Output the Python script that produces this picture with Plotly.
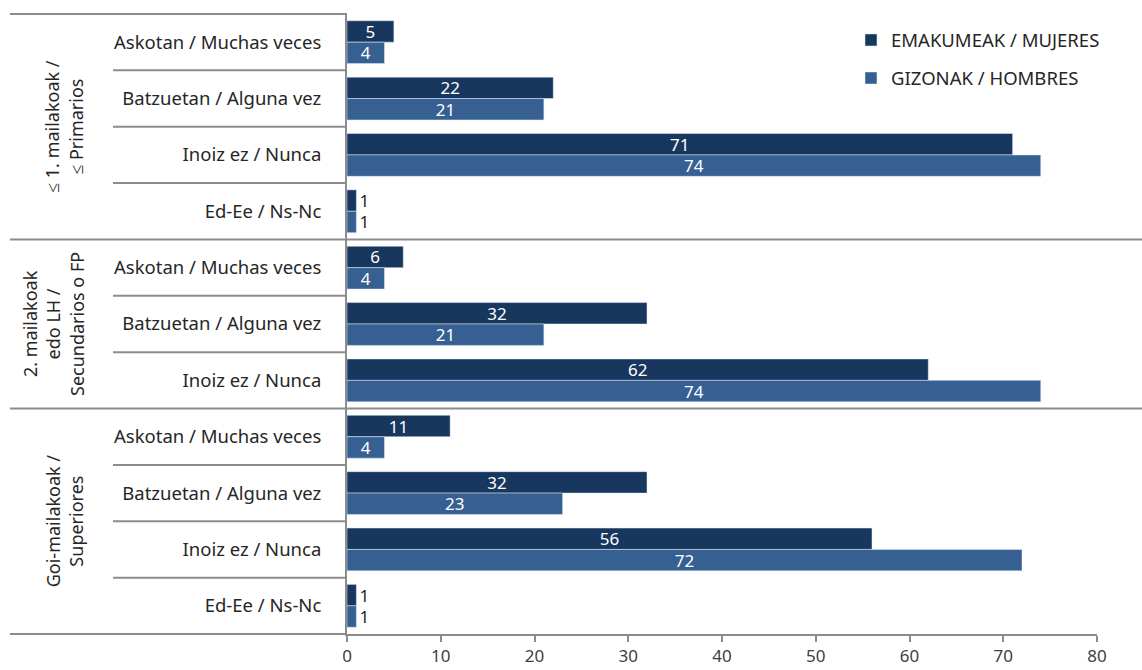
import plotly.graph_objects as go

groups = ["≤ 1. mailakoak /<br>≤ Primarios",
          "2. mailakoak<br>edo LH /<br>Secundarios o FP",
          "Goi-mailakoak /<br>Superiores"]
group_items = [
    ["Askotan / Muchas veces", "Batzuetan / Alguna vez", "Inoiz ez / Nunca", "Ed-Ee / Ns-Nc"],
    ["Askotan / Muchas veces", "Batzuetan / Alguna vez", "Inoiz ez / Nunca"],
    ["Askotan / Muchas veces", "Batzuetan / Alguna vez", "Inoiz ez / Nunca", "Ed-Ee / Ns-Nc"],
]
mujeres = [5, 22, 71, 1, 6, 32, 62, 11, 32, 56, 1]
hombres = [4, 21, 74, 1, 4, 21, 74, 4, 23, 72, 1]
series_names = ["EMAKUMEAK / MUJERES", "GIZONAK / HOMBRES"]
x_ticks = [0, 10, 20, 30, 40, 50, 60, 70, 80]

labels = [c for g in group_items for c in g]
pos = list(range(len(labels)))

FONT = "Noto Sans"
DARK = "#17375E"
LIGHT = "#376092"
GRID = "#8C8C8C"
TXT = "#262626"

fig = go.Figure()
for name, vals, col in [(series_names[0], mujeres, DARK), (series_names[1], hombres, LIGHT)]:
    fig.add_trace(go.Bar(
        y=pos, x=vals, orientation="h", name=name, marker_color=col,
        legendgroup=name,
        text=[str(v) for v in vals],
        textposition=["inside" if v > 1 else "outside" for v in vals],
        insidetextanchor="middle", textangle=0,
        insidetextfont=dict(color="white", size=17, family=FONT),
        outsidetextfont=dict(color=TXT, size=17, family=FONT),
        cliponaxis=False,
    ))

n = len(labels)
shapes = []
annotations = []
start = 0
group_x = [64, 53, 64]
for gi, items in enumerate(group_items):
    end = start + len(items)
    for k in range(start + 1, end):
        shapes.append(dict(type="line", xref="paper", yref="y", x0=(113 - 347) / 750, x1=0,
                           y0=k - 0.5, y1=k - 0.5, line=dict(color=GRID, width=2)))
    if end < n:
        shapes.append(dict(type="line", xref="paper", yref="y", x0=(10 - 347) / 750, x1=(1142 - 347) / 750,
                           y0=end - 0.5, y1=end - 0.5, line=dict(color=GRID, width=2)))
    annotations.append(dict(xref="paper", yref="y", x=(group_x[gi] - 347) / 750, y=(start + end - 1) / 2,
                            text=groups[gi], textangle=-90, showarrow=False,
                            xanchor="center", yanchor="middle",
                            font=dict(size=18, family=FONT, color=TXT)))
    start = end

shapes.append(dict(type="line", xref="paper", yref="paper", x0=(10 - 347) / 750, x1=0,
                   y0=1, y1=1, line=dict(color=GRID, width=2)))
shapes.append(dict(type="line", xref="paper", yref="paper", x0=(10 - 347) / 750, x1=0,
                   y0=0, y1=0, line=dict(color=GRID, width=2)))

fig.update_layout(
    width=1142, height=670,
    margin=dict(l=347, r=45, t=14, b=36),
    paper_bgcolor="white", plot_bgcolor="white",
    barmode="group", bargap=0.24, bargroupgap=0,
    uniformtext=dict(minsize=17, mode="show"),
    font=dict(family=FONT, size=18, color=TXT),
    shapes=shapes, annotations=annotations,
    legend=dict(x=0.672, y=0.988, xanchor="left", yanchor="top",
                font=dict(size=18.5, family=FONT, color=TXT),
                tracegroupgap=11, traceorder="grouped", bgcolor="rgba(0,0,0,0)",
                itemwidth=30),
    xaxis=dict(range=[0, 80], tickvals=x_ticks, showgrid=False, zeroline=False,
               showline=True, linecolor=GRID, linewidth=2, automargin=False,
               ticks="outside", ticklen=6, tickcolor=GRID, tickwidth=2,
               tickfont=dict(size=17, family=FONT, color="#404040")),
    yaxis=dict(tickvals=pos, ticktext=labels, range=[n - 0.5, -0.5], automargin=False,
               showgrid=False, zeroline=False, showline=True, linecolor=GRID, linewidth=2,
               ticks="", ticklabelstandoff=20,
               tickfont=dict(size=18.5, family=FONT, color=TXT)),
)

fig.write_html("out.html", post_script="document.body.style.margin='0';",
               config={"displayModeBar": False})
